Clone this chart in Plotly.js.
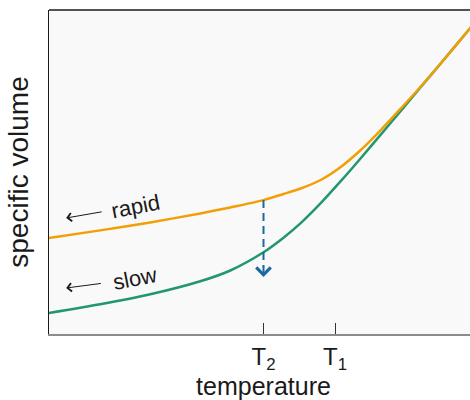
<!DOCTYPE html>
<html>
<head>
<meta charset="utf-8">
<script src="https://cdn.plot.ly/plotly-3.0.1.min.js"></script>
<style>
html, body { margin: 0; padding: 0; overflow: hidden; background: #ffffff; }
#chart { width: 478px; height: 400px; }
</style>
</head>
<body>
<div id="chart"></div>
<script>
// temperature (arbitrary units) and specific volume (arbitrary units)
const rapidTemp = [0, 0.179, 0.354, 0.529, 0.634, 0.75, 0.820, 0.880, 0.950, 1.020, 1.090, 1.160, 1.230, 1.300, 1.371, 1.476, 1.5];
const rapidVolume = [29.63, 31.98, 34.44, 37.22, 39.07, 41.33, 43.21, 44.91, 47.53, 51.54, 56.79, 62.96, 69.60, 76.39, 83.64, 94.75, 97.35];
const slowTemp = [0, 0.179, 0.354, 0.529, 0.634, 0.75, 0.820, 0.880, 0.950, 1.020, 1.090, 1.160, 1.230, 1.300, 1.371, 1.476, 1.5];
const slowVolume = [6.48, 9.17, 12.25, 16.27, 19.60, 25.22, 29.72, 34.20, 40.37, 47.16, 54.26, 61.54, 68.83, 76.23, 83.64, 94.75, 97.35];
const tickValues = [0.75, 1.0];
const tickLabels = ['T<sub>2</sub>', 'T<sub>1</sub>'];
const arrowTemp = 0.75;          // T2
const arrowFrom = 41.33;         // rapid curve at T2
const arrowTo = 17.6;            // end of the arrow

const traces = [
  {
    x: slowTemp, y: slowVolume, type: 'scatter', mode: 'lines', name: 'slow',
    line: {color: '#21976b', width: 2.5, shape: 'spline', smoothing: 0.7},
    hoverinfo: 'skip'
  },
  {
    x: rapidTemp, y: rapidVolume, type: 'scatter', mode: 'lines', name: 'rapid',
    line: {color: '#f29f05', width: 2.5, shape: 'spline', smoothing: 0.7},
    hoverinfo: 'skip'
  },
  {
    x: [arrowTemp, arrowTemp], y: [arrowFrom, arrowTo + 3], type: 'scatter', mode: 'lines',
    line: {color: '#1a6aa0', width: 2, dash: '8px,5px'},
    hoverinfo: 'skip'
  }
];

const layout = {
  width: 478, height: 400,
  margin: {l: 49, r: 0, t: 10, b: 66, pad: 0},
  paper_bgcolor: '#ffffff',
  plot_bgcolor: '#f9f9f9',
  showlegend: false,
  font: {family: '"Liberation Sans", Arial, sans-serif', color: '#1a1a1a'},
  xaxis: {
    range: [0, 1.5], showgrid: false, zeroline: false,
    showline: true, linecolor: '#8c8c8c', linewidth: 2,
    tickmode: 'array', tickvals: tickValues, ticktext: tickLabels,
    ticks: 'inside', ticklen: 11, tickwidth: 1, tickcolor: '#333333',
    tickfont: {size: 24, color: '#1a1a1a'},
    title: {text: 'temperature', font: {size: 25, color: '#1a1a1a'}, standoff: 4},
    fixedrange: true
  },
  yaxis: {
    range: [0, 100], showgrid: false, zeroline: false,
    showline: true, linecolor: '#1a1a1a', linewidth: 1.5,
    showticklabels: false, ticks: '',
    title: {text: 'specific volume', font: {size: 28, color: '#1a1a1a'}, standoff: 10},
    fixedrange: true
  },
  shapes: [
    {type: 'line', xref: 'paper', yref: 'paper', x0: 0, x1: 1, y0: 1, y1: 1,
     line: {color: '#1a1a1a', width: 1.5}}
  ],
  annotations: [
    {x: arrowTemp, y: arrowTo, xref: 'x', yref: 'y', text: '', showarrow: true,
     ax: 0, ay: -12, arrowhead: 4, arrowsize: 1.4, arrowwidth: 2, arrowcolor: '#1a6aa0'},
    {x: 0.06, y: 35.8, xref: 'x', yref: 'y', text: 'rapid', showarrow: true,
     ax: 69, ay: -12, borderpad: 9, textangle: -11, font: {size: 22, color: '#1a1a1a'},
     arrowhead: 4, arrowsize: 1.6, arrowwidth: 1, arrowcolor: '#1a1a1a'},
    {x: 0.06, y: 14.2, xref: 'x', yref: 'y', text: 'slow', showarrow: true,
     ax: 69, ay: -9, borderpad: 12, textangle: -11, font: {size: 22, color: '#1a1a1a'},
     arrowhead: 4, arrowsize: 1.6, arrowwidth: 1, arrowcolor: '#1a1a1a'}
  ]
};

Plotly.newPlot('chart', traces, layout, {displayModeBar: false, staticPlot: true});
</script>
</body>
</html>
